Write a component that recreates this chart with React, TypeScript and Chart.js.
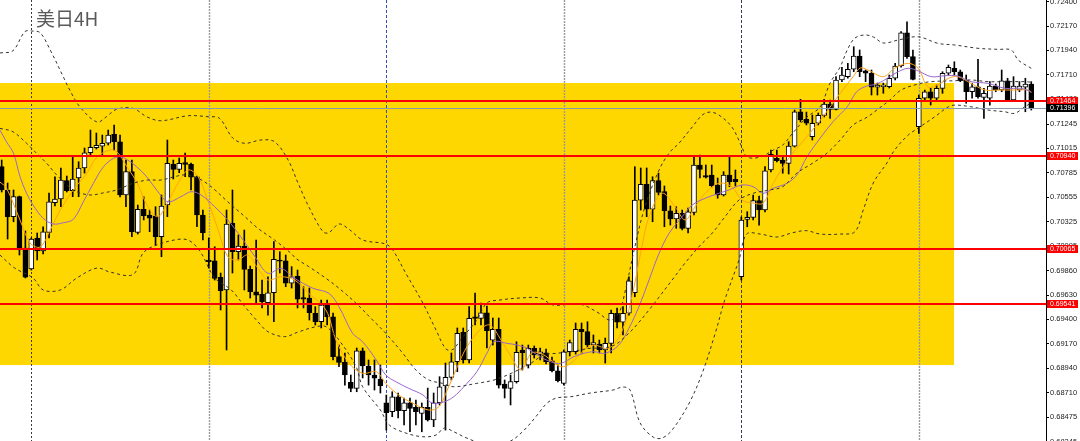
import React, { useEffect, useRef } from "react";
import { Chart, registerables } from "chart.js";
Chart.register(...registerables);

const chartTitle = "美日4H";

const opens = [
  0.70842,0.70622,0.70370,0.70559,0.70074,0.69876,0.70169,0.70046,0.70222,0.70502,
  0.70537,0.70710,0.70615,0.70735,0.70830,0.70974,0.71021,0.71037,0.71063,0.71148,
  0.71078,0.70575,0.70795,0.70222,0.70440,0.70386,0.70376,0.70181,0.70480,0.70864,
  0.70817,0.70880,0.70864,0.70747,0.70386,0.69961,0.69954,0.69797,0.69678,0.70307,
  0.70039,0.70093,0.69873,0.69661,0.69637,0.69558,0.69652,0.69961,0.69954,0.69741,
  0.69810,0.69605,0.69602,0.69458,0.69378,0.69536,0.69425,0.69048,0.68995,0.68806,
  0.68749,0.69104,0.68960,0.68875,0.68837,0.68613,0.68528,0.68670,0.68538,0.68613,
  0.68570,0.68513,0.68570,0.68450,0.68613,0.68771,0.68853,0.69000,0.69278,0.69017,
  0.69425,0.69410,0.69463,0.69205,0.69306,0.68790,0.68749,0.68812,0.69111,0.68969,
  0.69127,0.69070,0.69085,0.69010,0.68915,0.68796,0.69095,0.69095,0.69306,0.69284,
  0.69158,0.69168,0.69111,0.69174,0.69458,0.69373,0.69458,0.69652,0.70527,0.70676,
  0.70440,0.70710,0.70606,0.70426,0.70348,0.70402,0.70260,0.70411,0.70858,0.70757,
  0.70764,0.70669,0.70575,0.70764,0.70723,0.69803,0.70345,0.70364,0.70521,0.70433,
  0.70811,0.70921,0.70905,0.70874,0.71037,0.71361,0.71289,0.71125,0.71252,0.71327,
  0.71434,0.71384,0.71661,0.71692,0.71762,0.71887,0.71748,0.71724,0.71592,0.71597,
  0.71597,0.71677,0.71793,0.72107,0.71881,0.71220,0.71488,0.71550,0.71488,0.71582,
  0.71724,0.71771,0.71739,0.71661,0.71550,0.71597,0.71497,0.71488,0.71604,0.71566,
  0.71654,0.71472,0.71566,0.71592,0.71623,
];

const highs = [
  0.70905,0.70688,0.70622,0.70565,0.70235,0.70169,0.70216,0.70275,0.70594,0.70747,
  0.70830,0.70754,0.70936,0.70889,0.71018,0.71188,0.71160,0.71141,0.71188,0.71236,
  0.71141,0.70905,0.70905,0.70480,0.70559,0.70433,0.70464,0.70575,0.71094,0.70905,
  0.70924,0.70971,0.70877,0.70754,0.70433,0.70169,0.70086,0.69838,0.70433,0.70622,
  0.70197,0.70244,0.69904,0.70150,0.69772,0.69803,0.70134,0.70039,0.70008,0.69898,
  0.69866,0.69709,0.69696,0.69520,0.69583,0.69583,0.69460,0.69158,0.69083,0.68875,
  0.69130,0.69130,0.69017,0.69017,0.68969,0.68686,0.68717,0.68705,0.68658,0.68658,
  0.68639,0.68611,0.68752,0.68705,0.68859,0.68988,0.69083,0.69319,0.69319,0.69520,
  0.69649,0.69555,0.69526,0.69413,0.69413,0.68828,0.68875,0.69189,0.69158,0.69158,
  0.69149,0.69130,0.69120,0.69045,0.68969,0.69111,0.69205,0.69366,0.69366,0.69378,
  0.69253,0.69205,0.69224,0.69489,0.69508,0.69520,0.69803,0.70842,0.70830,0.70830,
  0.70747,0.70782,0.70660,0.70471,0.70464,0.70433,0.70452,0.70936,0.70952,0.70858,
  0.70858,0.70735,0.70795,0.70936,0.70811,0.70367,0.70417,0.70575,0.70565,0.70842,
  0.70999,0.70999,0.70936,0.71078,0.71377,0.71478,0.71358,0.71330,0.71349,0.71478,
  0.71472,0.71692,0.71781,0.71818,0.71975,0.71944,0.71755,0.71755,0.71632,0.71632,
  0.71708,0.71818,0.72117,0.72211,0.71944,0.71519,0.71566,0.71582,0.71613,0.71739,
  0.71802,0.71833,0.71755,0.71708,0.71629,0.71856,0.71582,0.71645,0.71623,0.71755,
  0.71677,0.71692,0.71645,0.71677,0.71645,
];

const lows = [
  0.70603,0.70159,0.70322,0.70008,0.69791,0.69866,0.69961,0.70018,0.70169,0.70471,
  0.70464,0.70603,0.70559,0.70559,0.70782,0.70936,0.71009,0.70952,0.71047,0.70999,
  0.70556,0.70464,0.70181,0.70206,0.70339,0.70228,0.70102,0.69992,0.70370,0.70726,
  0.70785,0.70747,0.70622,0.70275,0.70150,0.69885,0.69772,0.69489,0.69111,0.69838,
  0.69961,0.69678,0.69602,0.69555,0.69508,0.69441,0.69378,0.69838,0.69709,0.69696,
  0.69508,0.69508,0.69394,0.69347,0.69319,0.69347,0.69017,0.68953,0.68780,0.68717,
  0.68717,0.68847,0.68780,0.68733,0.68705,0.68355,0.68481,0.68469,0.68403,0.68339,
  0.68403,0.68339,0.68440,0.68387,0.68592,0.68355,0.68828,0.68906,0.68988,0.68988,
  0.69347,0.69347,0.69130,0.69158,0.68752,0.68658,0.68592,0.68799,0.68922,0.68941,
  0.69035,0.69017,0.68979,0.68903,0.68809,0.68780,0.69054,0.69073,0.69083,0.69130,
  0.69083,0.69083,0.68988,0.69083,0.69319,0.69253,0.69441,0.69614,0.70433,0.70370,
  0.70322,0.70575,0.70275,0.70291,0.70260,0.70244,0.70216,0.70386,0.70735,0.70735,
  0.70650,0.70544,0.70565,0.70653,0.70660,0.69772,0.70275,0.70339,0.70291,0.70414,
  0.70792,0.70886,0.70780,0.70773,0.71028,0.71264,0.71236,0.71094,0.71236,0.71311,
  0.71299,0.71377,0.71645,0.71677,0.71739,0.71692,0.71645,0.71519,0.71519,0.71535,
  0.71585,0.71661,0.71783,0.71865,0.71661,0.71157,0.71472,0.71424,0.71472,0.71535,
  0.71708,0.71708,0.71645,0.71441,0.71488,0.71488,0.71299,0.71424,0.71550,0.71550,
  0.71456,0.71456,0.71550,0.71361,0.71377,
];

const closes = [
  0.70622,0.70370,0.70559,0.70055,0.69800,0.70159,0.70046,0.70228,0.70511,0.70537,
  0.70716,0.70615,0.70726,0.70830,0.70974,0.71025,0.71044,0.71063,0.71141,0.71078,
  0.70575,0.70795,0.70228,0.70440,0.70379,0.70355,0.70181,0.70471,0.70874,0.70817,
  0.70874,0.70864,0.70742,0.70386,0.70219,0.69945,0.69788,0.69671,0.70301,0.70039,
  0.70093,0.69873,0.69661,0.69630,0.69567,0.69652,0.69967,0.69949,0.69741,0.69803,
  0.69590,0.69590,0.69463,0.69378,0.69536,0.69425,0.69048,0.68995,0.68875,0.68749,
  0.69104,0.68960,0.68875,0.68844,0.68774,0.68519,0.68670,0.68538,0.68613,0.68560,
  0.68528,0.68570,0.68450,0.68613,0.68764,0.68853,0.69000,0.69269,0.69017,0.69410,
  0.69410,0.69463,0.69293,0.69306,0.68780,0.68749,0.68812,0.69089,0.69085,0.69127,
  0.69064,0.69095,0.69000,0.68915,0.68821,0.69095,0.69180,0.69306,0.69284,0.69158,
  0.69180,0.69111,0.69174,0.69458,0.69373,0.69458,0.69765,0.70527,0.70676,0.70440,
  0.70710,0.70600,0.70426,0.70348,0.70402,0.70260,0.70417,0.70858,0.70817,0.70742,
  0.70662,0.70575,0.70764,0.70700,0.70700,0.70339,0.70364,0.70521,0.70433,0.70804,
  0.70959,0.70899,0.70874,0.71037,0.71361,0.71283,0.71252,0.71252,0.71327,0.71434,
  0.71384,0.71661,0.71708,0.71762,0.71887,0.71739,0.71724,0.71592,0.71613,0.71613,
  0.71677,0.71793,0.72107,0.71881,0.71667,0.71488,0.71550,0.71488,0.71582,0.71724,
  0.71781,0.71739,0.71654,0.71550,0.71597,0.71503,0.71535,0.71604,0.71566,0.71654,
  0.71472,0.71604,0.71604,0.71623,0.71396,
];

// Bollinger bands and moving averages, read at bar positions: [barIndex, price]
const upperBand: [number, number][] = [
  [-0.3,0.71916],[1.9,0.71937],[3.9,0.72117],[5.1,0.72123],[6.5,0.72107],[8.2,0.71944],[10.4,0.71692],[11.5,0.71566],
  [13.2,0.71408],[16.1,0.71264],[17.7,0.71314],[19.4,0.71384],[22.2,0.71393],[24.5,0.71314],[26.9,0.71276],[31.5,0.71323],
  [34.9,0.71314],[36.8,0.71299],[39.1,0.71110],[41.1,0.71063],[43.8,0.71094],[46.1,0.71078],[48.4,0.70905],[50.1,0.70685],
  [51.9,0.70464],[54.3,0.70228],[55.3,0.70219],[57.0,0.70301],[58.7,0.70251],[61.0,0.70150],[64.9,0.70112],[66.1,0.70055],
  [68.3,0.69835],[71.2,0.69552],[73.4,0.69300],[75.1,0.69120],[76.3,0.69118],[77.5,0.69205],[80.3,0.69394],[82.0,0.69555],
  [84.2,0.69583],[87.6,0.69602],[91.0,0.69602],[93.2,0.69536],[97.7,0.69545],[100.6,0.69470],[102.8,0.69394],[104.3,0.69460],
  [105.3,0.69649],[107.0,0.70084],[108.7,0.70461],[111.1,0.70811],[112.8,0.70971],[114.5,0.71066],[116.7,0.71217],[118.4,0.71330],
  [119.7,0.71358],[121.2,0.71330],[123.4,0.71217],[125.1,0.71028],[126.0,0.70933],[128.2,0.70933],[130.4,0.70999],[132.0,0.71047],
  [133.7,0.71160],[136.1,0.71311],[138.3,0.71406],[140.0,0.71632],[141.7,0.71783],[142.9,0.71944],[144.2,0.72057],[145.9,0.72086],
  [147.3,0.72067],[149.0,0.72010],[151.5,0.72038],[154.9,0.72069],[158.2,0.72007],[161.1,0.71991],[165.0,0.71960],[168.4,0.71950],
  [170.6,0.71944],[171.8,0.71849],[174.0,0.71771],
];

const middleBand: [number, number][] = [
  [-0.3,0.71204],[1.9,0.71172],[4.2,0.71063],[5.9,0.70968],[7.6,0.70874],[9.3,0.70764],[12.1,0.70622],[14.9,0.70575],
  [17.1,0.70594],[19.4,0.70622],[22.2,0.70685],[24.7,0.70716],[26.9,0.70716],[29.2,0.70747],[30.9,0.70764],[33.2,0.70732],
  [35.4,0.70653],[38.2,0.70511],[41.1,0.70370],[43.3,0.70260],[46.1,0.70150],[48.9,0.70024],[49.7,0.69977],[51.9,0.69898],
  [54.8,0.69788],[57.0,0.69694],[59.9,0.69552],[62.7,0.69394],[64.9,0.69269],[67.8,0.69080],[70.0,0.68922],[72.2,0.68828],
  [74.5,0.68796],[76.4,0.68764],[80.3,0.68796],[83.2,0.68828],[86.1,0.68891],[89.4,0.68985],[91.6,0.69064],[93.8,0.69080],
  [96.2,0.69095],[99.5,0.69127],[101.9,0.69130],[103.6,0.69158],[105.3,0.69234],[107.0,0.69328],[109.4,0.69489],[111.1,0.69611],
  [113.3,0.69772],[115.5,0.69933],[117.8,0.70084],[120.1,0.70216],[122.2,0.70367],[124.6,0.70527],[127.0,0.70591],[129.8,0.70622],
  [132.0,0.70653],[134.4,0.70782],[137.1,0.70877],[139.5,0.70971],[141.7,0.71094],[143.9,0.71236],[146.3,0.71311],[147.9,0.71377],
  [150.1,0.71472],[152.0,0.71566],[154.9,0.71623],[157.1,0.71645],[161.1,0.71654],[163.8,0.71661],[166.7,0.71645],[169.6,0.71645],
  [172.9,0.71645],[174.0,0.71640],
];

const lowerBand: [number, number][] = [
  [-0.3,0.70008],[2.2,0.69885],[5.3,0.69791],[7.0,0.69678],[9.9,0.69678],[12.7,0.69791],[16.1,0.69885],[18.3,0.69847],
  [22.2,0.69824],[23.9,0.70027],[26.2,0.70102],[30.3,0.70159],[32.0,0.70134],[33.7,0.70027],[36.0,0.69791],[38.8,0.69678],
  [41.1,0.69520],[43.3,0.69378],[45.0,0.69284],[47.8,0.69237],[50.1,0.69281],[53.1,0.69331],[54.8,0.69331],[57.0,0.69205],
  [59.9,0.68953],[61.0,0.68764],[64.0,0.68544],[65.5,0.68403],[68.3,0.68327],[71.2,0.68292],[73.4,0.68308],[74.8,0.68374],
  [76.4,0.68339],[78.1,0.68292],[79.8,0.68252],[82.5,0.68195],[86.0,0.68252],[88.3,0.68355],[90.5,0.68497],[92.2,0.68611],
  [93.8,0.68658],[96.2,0.68670],[99.5,0.68705],[103.3,0.68733],[105.0,0.68762],[106.2,0.68733],[107.9,0.68422],[110.1,0.68289],
  [111.6,0.68280],[113.3,0.68355],[116.2,0.68611],[118.4,0.68894],[120.6,0.69271],[122.2,0.69583],[124.6,0.69961],[125.9,0.70206],
  [128.2,0.70206],[131.0,0.70178],[133.7,0.70219],[136.0,0.70238],[138.3,0.70206],[141.7,0.70206],[144.2,0.70228],[145.6,0.70433],
  [147.3,0.70688],[149.6,0.70877],[150.9,0.70999],[153.2,0.71141],[154.9,0.71207],[157.7,0.71314],[160.0,0.71408],[161.1,0.71424],
  [163.8,0.71408],[166.7,0.71377],[169.5,0.71361],[171.2,0.71346],[172.9,0.71408],[174.0,0.71443],
];

const fastMA: [number, number][] = [
  [-0.3,0.70697],[0.8,0.70641],[3.1,0.70339],[4.8,0.70121],[6.5,0.70084],[8.2,0.70244],[9.9,0.70433],[12.1,0.70622],
  [14.4,0.70782],[16.1,0.70933],[18.3,0.70999],[19.5,0.70981],[21.2,0.70839],[22.9,0.70688],[24.7,0.70464],[26.4,0.70370],
  [28.1,0.70511],[29.8,0.70685],[31.5,0.70811],[33.2,0.70747],[34.9,0.70511],[36.6,0.70244],[38.2,0.69992],[39.9,0.69961],
  [41.6,0.70008],[43.3,0.69882],[45.0,0.69772],[47.2,0.69803],[49.5,0.69772],[51.9,0.69646],[54.8,0.69489],[56.5,0.69205],
  [58.7,0.68985],[61.0,0.68891],[63.3,0.68906],[64.9,0.68796],[67.1,0.68686],[69.5,0.68608],[72.2,0.68544],[73.9,0.68576],
  [75.3,0.68733],[77.0,0.68953],[78.6,0.69139],[80.8,0.69300],[82.5,0.69347],[84.4,0.69205],[86.1,0.69048],[87.8,0.68922],
  [89.5,0.69080],[91.1,0.69080],[92.8,0.69017],[94.5,0.68953],[96.2,0.68985],[98.4,0.69111],[100.1,0.69158],[102.6,0.69127],
  [104.8,0.69284],[106.5,0.69614],[108.2,0.70086],[109.4,0.70370],[111.6,0.70591],[113.8,0.70464],[115.5,0.70339],[117.2,0.70464],
  [118.9,0.70591],[121.2,0.70685],[123.4,0.70653],[125.1,0.70527],[127.0,0.70499],[128.7,0.70499],[130.4,0.70685],[133.2,0.70936],
  [136.1,0.71125],[138.8,0.71314],[141.7,0.71535],[143.9,0.71692],[145.1,0.71774],[146.4,0.71755],[149.0,0.71692],[150.9,0.71771],
  [153.2,0.71818],[154.9,0.71771],[156.5,0.71597],[158.2,0.71613],[160.0,0.71677],[161.6,0.71692],[163.8,0.71629],[166.2,0.71566],
  [168.4,0.71566],[171.3,0.71566],[173.5,0.71566],[174.0,0.71540],
];

const slowMA: [number, number][] = [
  [-0.3,0.71188],[0.8,0.71078],[2.0,0.70968],[3.1,0.70747],[4.2,0.70591],[5.3,0.70480],[7.0,0.70355],[8.7,0.70301],
  [10.4,0.70313],[12.1,0.70345],[13.8,0.70511],[15.5,0.70685],[17.2,0.70842],[18.9,0.70921],[20.0,0.70936],[21.1,0.70912],
  [22.8,0.70842],[24.5,0.70747],[26.4,0.70606],[28.1,0.70511],[30.3,0.70559],[32.0,0.70606],[33.7,0.70575],[36.0,0.70464],
  [38.2,0.70339],[40.4,0.70181],[42.8,0.69992],[45.0,0.69835],[47.2,0.69882],[49.5,0.69788],[52.6,0.69694],[55.3,0.69646],
  [57.0,0.69520],[59.3,0.69269],[61.0,0.69189],[63.3,0.69017],[64.9,0.68875],[66.6,0.68812],[68.8,0.68749],[71.2,0.68686],
  [72.8,0.68608],[74.8,0.68623],[76.4,0.68670],[78.1,0.68764],[80.3,0.68906],[82.0,0.69080],[83.2,0.69189],[85.4,0.69174],
  [87.1,0.69158],[88.8,0.69127],[90.5,0.69064],[92.8,0.69000],[94.5,0.68985],[96.7,0.69048],[98.4,0.69080],[100.1,0.69095],
  [102.0,0.69080],[104.3,0.69158],[106.0,0.69316],[107.7,0.69520],[109.4,0.69772],[111.1,0.70024],[112.8,0.70213],[115.0,0.70370],
  [116.7,0.70480],[118.9,0.70544],[121.2,0.70591],[122.9,0.70622],[125.1,0.70669],[127.0,0.70653],[128.7,0.70591],[130.4,0.70638],
  [132.7,0.70685],[134.4,0.70764],[136.1,0.70936],[138.3,0.71110],[140.5,0.71267],[142.9,0.71408],[144.5,0.71550],[146.2,0.71604],
  [147.9,0.71623],[150.1,0.71692],[151.5,0.71739],[153.2,0.71771],[154.9,0.71746],[157.1,0.71692],[159.4,0.71701],[161.6,0.71698],
  [163.8,0.71645],[166.7,0.71629],[169.6,0.71582],[172.3,0.71582],[174.0,0.71550],
];

const yTickValues = [
  0.724, 0.7217, 0.7194, 0.7171, 0.7148, 0.71245, 0.71015, 0.70785, 0.70555, 0.70325,
  0.70095, 0.6986, 0.6963, 0.694, 0.6917, 0.6894, 0.6871, 0.68475, 0.68245,
];

const supportResistance = [0.71464, 0.7094, 0.70065, 0.69541];
const lastPrice = 0.71396;
const zoneBars = [-6, 160.95];
const zonePrices = [0.68969, 0.71632];
const weekSeparators = [5, 35, 65, 95, 125, 155];

const SEP_STYLES = [
  { color: "#3a3a3a", dash: [2, 2], width: 1 },
  { color: "#9a9a9a", dash: [2, 1], width: 1.4 },
  { color: "#3050b8", dash: [3, 2], width: 1 },
  { color: "#9a9a9a", dash: [2, 1], width: 1.4 },
  { color: "#3a3a55", dash: [3, 2], width: 1 },
  { color: "#9a9a9a", dash: [2, 1], width: 1.4 },
];

const overlayPlugin = {
  id: "overlay",
  beforeDatasetsDraw(chart: any) {
    const { ctx, chartArea: a, scales } = chart;
    const xs = scales.x;
    const ys = scales.y;
    ctx.save();
    ctx.beginPath();
    ctx.rect(a.left, a.top, a.right - a.left, a.bottom - a.top);
    ctx.clip();
    const x1 = xs.getPixelForValue(zoneBars[0]);
    const x2 = xs.getPixelForValue(zoneBars[1]);
    const y1 = ys.getPixelForValue(zonePrices[1]);
    const y2 = ys.getPixelForValue(zonePrices[0]);
    ctx.fillStyle = "#FFD700";
    ctx.fillRect(x1, y1, x2 - x1, y2 - y1);
    weekSeparators.forEach((idx, k) => {
      const st = SEP_STYLES[k % SEP_STYLES.length];
      const px = Math.round(xs.getPixelForValue(idx)) + 0.5;
      ctx.strokeStyle = st.color;
      ctx.lineWidth = st.width;
      ctx.setLineDash(st.dash);
      ctx.beginPath();
      ctx.moveTo(px, a.top);
      ctx.lineTo(px, a.bottom);
      ctx.stroke();
    });
    ctx.restore();
  },
  afterDatasetsDraw(chart: any) {
    const { ctx, chartArea: a, scales } = chart;
    const ys = scales.y;
    ctx.save();
    ctx.setLineDash([]);
    const gy = Math.round(ys.getPixelForValue(lastPrice)) + 0.5;
    ctx.strokeStyle = "#8a9bb0";
    ctx.lineWidth = 1;
    ctx.beginPath();
    ctx.moveTo(a.left, gy);
    ctx.lineTo(a.right, gy);
    ctx.stroke();
    supportResistance.forEach((lv) => {
      const py = Math.round(ys.getPixelForValue(lv));
      ctx.strokeStyle = "#FF0000";
      ctx.lineWidth = 2;
      ctx.beginPath();
      ctx.moveTo(a.left, py);
      ctx.lineTo(a.right, py);
      ctx.stroke();
    });
    ctx.restore();
  },
  afterDraw(chart: any) {
    const { ctx, chartArea: a, scales } = chart;
    const ys = scales.y;
    ctx.save();
    const tag = (val: number, bg: string) => {
      const py = ys.getPixelForValue(val);
      ctx.fillStyle = bg;
      ctx.fillRect(a.right + 1, Math.round(py) - 4, 31, 8);
      ctx.fillStyle = "#ffffff";
      ctx.font = '7px "Liberation Sans"';
      ctx.textBaseline = "middle";
      ctx.textAlign = "left";
      ctx.fillText(val.toFixed(5), a.right + 4, Math.round(py) + 0.5);
    };
    supportResistance.forEach((lv) => tag(lv, "#FF0000"));
    tag(lastPrice, "#000000");
    ctx.fillStyle = "#5a5a5a";
    ctx.font = '19px "Noto Sans CJK SC"';
    ctx.textBaseline = "alphabetic";
    ctx.textAlign = "left";
    ctx.fillText(chartTitle, 36, 26);
    ctx.restore();
  },
};

function lineSet(points: [number, number][], color: string, dash: number[]) {
  return {
    type: "line" as const,
    data: points.map(([x, y]) => ({ x, y })),
    borderColor: color,
    borderWidth: 1,
    borderDash: dash,
    pointRadius: 0,
    tension: 0.35,
    fill: false,
    order: -1,
  };
}

export default function App() {
  const ref = useRef<HTMLCanvasElement | null>(null);
  useEffect(() => {
    if (!ref.current) return;
    const chart = new Chart(ref.current, {
      type: "bar",
      data: {
        datasets: [
          {
            type: "bar",
            data: opens.map((o, i) => ({ x: i, y: [o, closes[i]] })) as any,
            backgroundColor: opens.map((o, i) => (closes[i] >= o ? "#ffffff" : "#000000")),
            borderColor: "#000000",
            borderWidth: 1,
            borderSkipped: false,
            barThickness: 5,
            grouped: false,
            order: 1,
          } as any,
          {
            type: "bar",
            data: lows.map((l, i) => ({ x: i, y: [l, highs[i]] })) as any,
            backgroundColor: "#000000",
            barThickness: 1,
            grouped: false,
            order: 2,
          } as any,
          lineSet(upperBand, "#333333", [3, 3]),
          lineSet(middleBand, "#333333", [3, 3]),
          lineSet(lowerBand, "#333333", [3, 3]),
          lineSet(slowMA, "#9966CC", []),
          lineSet(fastMA, "#FFA31A", []),
        ] as any,
      },
      options: {
        animation: false,
        responsive: false,
        maintainAspectRatio: false,
        devicePixelRatio: 1,
        layout: { padding: 0 },
        plugins: { legend: { display: false }, tooltip: { enabled: false } },
        scales: {
          x: { type: "linear", display: false, min: -0.287, max: 176.49, offset: false },
          y: {
            position: "right",
            min: 0.680724,
            max: 0.724161,
            afterBuildTicks: (s: any) => {
              s.ticks = yTickValues.map((v) => ({ value: v }));
            },
            afterFit: (s: any) => {
              s.width = 34;
              s.paddingTop = 0;
              s.paddingBottom = 0;
            },
            grid: { drawOnChartArea: false, drawTicks: true, tickLength: 3, color: "#000000" },
            border: { display: true, color: "#000000", width: 1 },
            ticks: {
              autoSkip: false,
              padding: 1,
              color: "#1a1a1a",
              font: { size: 7.5, family: "Liberation Sans" },
              callback: (v: any) => Number(v).toFixed(5),
            },
          },
        },
      } as any,
      plugins: [overlayPlugin],
    });
    return () => chart.destroy();
  }, []);
  return (
    <div style={{ position: "fixed", left: 0, top: 0, width: 1080, height: 460, background: "#ffffff" }}>
      <canvas ref={ref} width={1080} height={460} style={{ display: "block" }} />
    </div>
  );
}
